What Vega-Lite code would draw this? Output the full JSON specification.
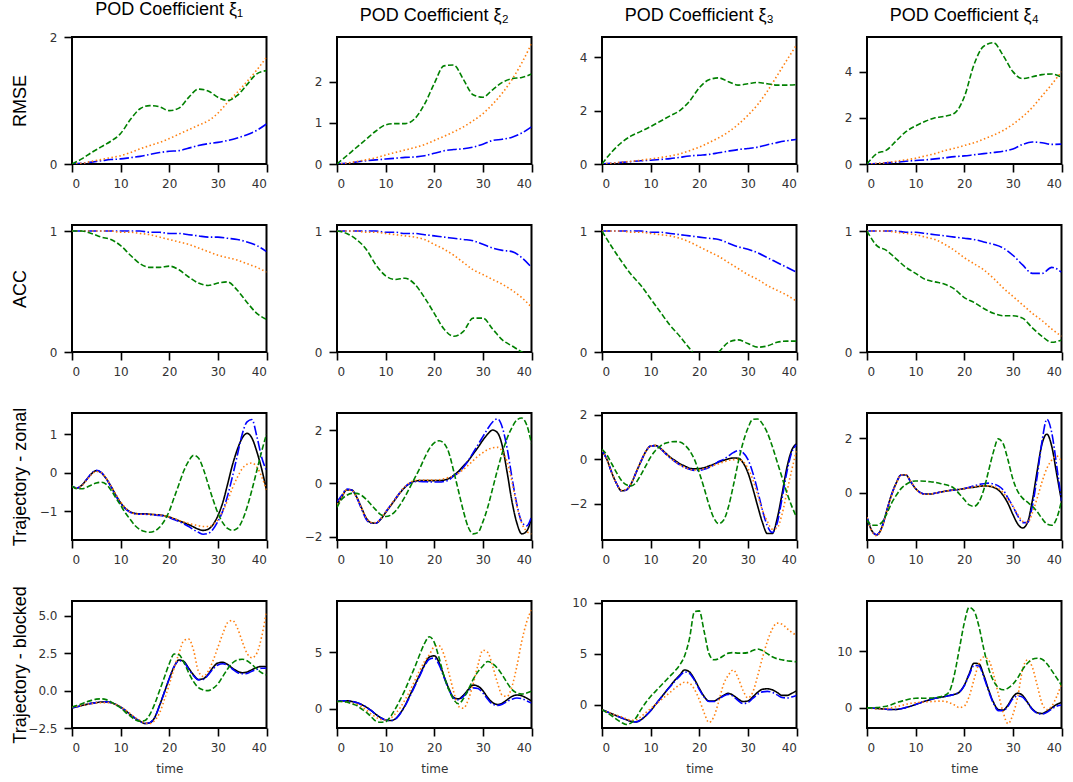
{
"$schema":"https://vega.github.io/schema/vega-lite/v6.json",
"background":"white",
"padding":{"left":9,"top":0,"right":5,"bottom":5},
"bounds":"flush",
"columns":4,
"spacing":{"row":61,"column":70},
"data":{"values":[
{"p":"11","t":0,"b":0,"o":0,"g":0},{"p":"11","t":2,"b":0.01,"o":0.01,"g":0.08},{"p":"11","t":4,"b":0.03,"o":0.04,"g":0.18},{"p":"11","t":6,"b":0.05,"o":0.07,"g":0.27},{"p":"11","t":8,"b":0.07,"o":0.1,"g":0.36},{"p":"11","t":10,"b":0.08,"o":0.13,"g":0.48},{"p":"11","t":12,"b":0.1,"o":0.18,"g":0.7},{"p":"11","t":14,"b":0.12,"o":0.24,"g":0.87},{"p":"11","t":16,"b":0.15,"o":0.29,"g":0.92},{"p":"11","t":18,"b":0.18,"o":0.34,"g":0.9},{"p":"11","t":20,"b":0.2,"o":0.4,"g":0.84},{"p":"11","t":22,"b":0.21,"o":0.47,"g":0.88},{"p":"11","t":24,"b":0.25,"o":0.54,"g":1.05},{"p":"11","t":26,"b":0.29,"o":0.61,"g":1.18},{"p":"11","t":28,"b":0.32,"o":0.68,"g":1.15},{"p":"11","t":30,"b":0.34,"o":0.8,"g":1.05},{"p":"11","t":32,"b":0.37,"o":0.97,"g":1.0},{"p":"11","t":34,"b":0.41,"o":1.13,"g":1.08},{"p":"11","t":36,"b":0.46,"o":1.3,"g":1.25},{"p":"11","t":38,"b":0.53,"o":1.48,"g":1.42},{"p":"11","t":40,"b":0.63,"o":1.68,"g":1.47},
{"p":"12","t":0,"b":0,"o":0,"g":0},{"p":"12","t":2,"b":0.02,"o":0.02,"g":0.2},{"p":"12","t":4,"b":0.05,"o":0.06,"g":0.4},{"p":"12","t":6,"b":0.08,"o":0.1,"g":0.6},{"p":"12","t":8,"b":0.1,"o":0.15,"g":0.8},{"p":"12","t":10,"b":0.12,"o":0.22,"g":0.95},{"p":"12","t":12,"b":0.14,"o":0.28,"g":0.98},{"p":"12","t":14,"b":0.16,"o":0.34,"g":0.98},{"p":"12","t":16,"b":0.17,"o":0.4,"g":1.1},{"p":"12","t":18,"b":0.2,"o":0.47,"g":1.45},{"p":"12","t":20,"b":0.26,"o":0.57,"g":1.95},{"p":"12","t":22,"b":0.32,"o":0.67,"g":2.38},{"p":"12","t":24,"b":0.35,"o":0.78,"g":2.4},{"p":"12","t":26,"b":0.37,"o":0.9,"g":2.05},{"p":"12","t":28,"b":0.41,"o":1.05,"g":1.68},{"p":"12","t":30,"b":0.48,"o":1.22,"g":1.62},{"p":"12","t":32,"b":0.57,"o":1.45,"g":1.8},{"p":"12","t":34,"b":0.6,"o":1.72,"g":1.98},{"p":"12","t":36,"b":0.65,"o":2.05,"g":2.07},{"p":"12","t":38,"b":0.75,"o":2.45,"g":2.1},{"p":"12","t":40,"b":0.9,"o":2.92,"g":2.18},
{"p":"13","t":0,"b":0,"o":0,"g":0},{"p":"13","t":2,"b":0.03,"o":0.03,"g":0.45},{"p":"13","t":4,"b":0.06,"o":0.07,"g":0.8},{"p":"13","t":6,"b":0.09,"o":0.1,"g":1.05},{"p":"13","t":8,"b":0.12,"o":0.14,"g":1.22},{"p":"13","t":10,"b":0.14,"o":0.19,"g":1.4},{"p":"13","t":12,"b":0.17,"o":0.24,"g":1.6},{"p":"13","t":14,"b":0.2,"o":0.3,"g":1.8},{"p":"13","t":16,"b":0.25,"o":0.38,"g":2.0},{"p":"13","t":18,"b":0.3,"o":0.5,"g":2.35},{"p":"13","t":20,"b":0.33,"o":0.63,"g":2.85},{"p":"13","t":22,"b":0.36,"o":0.8,"g":3.15},{"p":"13","t":24,"b":0.42,"o":0.98,"g":3.22},{"p":"13","t":26,"b":0.48,"o":1.2,"g":3.08},{"p":"13","t":28,"b":0.54,"o":1.48,"g":2.95},{"p":"13","t":30,"b":0.58,"o":1.82,"g":3.0},{"p":"13","t":32,"b":0.63,"o":2.22,"g":3.05},{"p":"13","t":34,"b":0.72,"o":2.72,"g":3.0},{"p":"13","t":36,"b":0.8,"o":3.3,"g":2.95},{"p":"13","t":38,"b":0.87,"o":3.88,"g":2.95},{"p":"13","t":40,"b":0.92,"o":4.45,"g":2.97},
{"p":"14","t":0,"b":0,"o":0,"g":0},{"p":"14","t":2,"b":0.02,"o":0.02,"g":0.45},{"p":"14","t":4,"b":0.05,"o":0.06,"g":0.6},{"p":"14","t":6,"b":0.08,"o":0.12,"g":1.0},{"p":"14","t":8,"b":0.12,"o":0.18,"g":1.4},{"p":"14","t":10,"b":0.15,"o":0.25,"g":1.65},{"p":"14","t":12,"b":0.18,"o":0.35,"g":1.85},{"p":"14","t":14,"b":0.22,"o":0.45,"g":2.0},{"p":"14","t":16,"b":0.27,"o":0.58,"g":2.07},{"p":"14","t":18,"b":0.32,"o":0.68,"g":2.2},{"p":"14","t":20,"b":0.35,"o":0.8,"g":2.9},{"p":"14","t":22,"b":0.4,"o":0.92,"g":4.3},{"p":"14","t":24,"b":0.45,"o":1.08,"g":5.1},{"p":"14","t":26,"b":0.5,"o":1.25,"g":5.25},{"p":"14","t":28,"b":0.55,"o":1.45,"g":4.7},{"p":"14","t":30,"b":0.65,"o":1.72,"g":4.0},{"p":"14","t":32,"b":0.85,"o":2.05,"g":3.7},{"p":"14","t":34,"b":0.95,"o":2.45,"g":3.78},{"p":"14","t":36,"b":0.92,"o":2.95,"g":3.87},{"p":"14","t":38,"b":0.85,"o":3.45,"g":3.9},{"p":"14","t":40,"b":0.86,"o":4.0,"g":3.75},
{"p":"21","t":0,"b":1,"o":1,"g":1},{"p":"21","t":2,"b":1,"o":1,"g":1},{"p":"21","t":4,"b":1,"o":1,"g":0.98},{"p":"21","t":6,"b":1,"o":1,"g":0.95},{"p":"21","t":8,"b":1,"o":1,"g":0.93},{"p":"21","t":10,"b":1,"o":0.99,"g":0.88},{"p":"21","t":12,"b":1,"o":0.99,"g":0.8},{"p":"21","t":14,"b":1,"o":0.98,"g":0.73},{"p":"21","t":16,"b":0.99,"o":0.97,"g":0.7},{"p":"21","t":18,"b":0.99,"o":0.95,"g":0.7},{"p":"21","t":20,"b":0.98,"o":0.93,"g":0.71},{"p":"21","t":22,"b":0.98,"o":0.91,"g":0.68},{"p":"21","t":24,"b":0.97,"o":0.89,"g":0.62},{"p":"21","t":26,"b":0.96,"o":0.86,"g":0.57},{"p":"21","t":28,"b":0.95,"o":0.83,"g":0.55},{"p":"21","t":30,"b":0.95,"o":0.8,"g":0.57},{"p":"21","t":32,"b":0.94,"o":0.78,"g":0.58},{"p":"21","t":34,"b":0.93,"o":0.76,"g":0.51},{"p":"21","t":36,"b":0.91,"o":0.73,"g":0.41},{"p":"21","t":38,"b":0.88,"o":0.7,"g":0.32},{"p":"21","t":40,"b":0.83,"o":0.66,"g":0.27},
{"p":"22","t":0,"b":1,"o":1,"g":1},{"p":"22","t":2,"b":1,"o":1,"g":0.98},{"p":"22","t":4,"b":1,"o":1,"g":0.93},{"p":"22","t":6,"b":1,"o":0.99,"g":0.85},{"p":"22","t":8,"b":1,"o":0.99,"g":0.72},{"p":"22","t":10,"b":0.99,"o":0.98,"g":0.63},{"p":"22","t":12,"b":0.99,"o":0.97,"g":0.6},{"p":"22","t":14,"b":0.98,"o":0.96,"g":0.61},{"p":"22","t":16,"b":0.98,"o":0.95,"g":0.56},{"p":"22","t":18,"b":0.97,"o":0.93,"g":0.45},{"p":"22","t":20,"b":0.96,"o":0.89,"g":0.32},{"p":"22","t":22,"b":0.95,"o":0.85,"g":0.19},{"p":"22","t":24,"b":0.94,"o":0.8,"g":0.13},{"p":"22","t":26,"b":0.93,"o":0.74,"g":0.17},{"p":"22","t":28,"b":0.92,"o":0.68,"g":0.28},{"p":"22","t":30,"b":0.89,"o":0.64,"g":0.28},{"p":"22","t":32,"b":0.86,"o":0.6,"g":0.19},{"p":"22","t":34,"b":0.84,"o":0.56,"g":0.1},{"p":"22","t":36,"b":0.83,"o":0.51,"g":0.05},{"p":"22","t":38,"b":0.78,"o":0.45,"g":0.0},{"p":"22","t":40,"b":0.7,"o":0.37,"g":-0.04},
{"p":"23","t":0,"b":1,"o":1,"g":1},{"p":"23","t":2,"b":1,"o":1,"g":0.87},{"p":"23","t":4,"b":1,"o":1,"g":0.75},{"p":"23","t":6,"b":1,"o":0.99,"g":0.64},{"p":"23","t":8,"b":1,"o":0.99,"g":0.55},{"p":"23","t":10,"b":0.99,"o":0.98,"g":0.44},{"p":"23","t":12,"b":0.99,"o":0.97,"g":0.33},{"p":"23","t":14,"b":0.98,"o":0.96,"g":0.22},{"p":"23","t":16,"b":0.97,"o":0.94,"g":0.13},{"p":"23","t":18,"b":0.96,"o":0.91,"g":0.03},{"p":"23","t":20,"b":0.95,"o":0.87,"g":-0.05},{"p":"23","t":22,"b":0.94,"o":0.83,"g":-0.05},{"p":"23","t":24,"b":0.93,"o":0.79,"g":0.0},{"p":"23","t":26,"b":0.9,"o":0.74,"g":0.08},{"p":"23","t":28,"b":0.87,"o":0.69,"g":0.1},{"p":"23","t":30,"b":0.85,"o":0.64,"g":0.07},{"p":"23","t":32,"b":0.82,"o":0.6,"g":0.04},{"p":"23","t":34,"b":0.78,"o":0.55,"g":0.05},{"p":"23","t":36,"b":0.74,"o":0.51,"g":0.08},{"p":"23","t":38,"b":0.7,"o":0.47,"g":0.09},{"p":"23","t":40,"b":0.66,"o":0.42,"g":0.09},
{"p":"24","t":0,"b":1,"o":1,"g":1},{"p":"24","t":2,"b":1,"o":1,"g":0.88},{"p":"24","t":4,"b":1,"o":1,"g":0.84},{"p":"24","t":6,"b":1,"o":0.99,"g":0.77},{"p":"24","t":8,"b":0.99,"o":0.98,"g":0.7},{"p":"24","t":10,"b":0.99,"o":0.97,"g":0.65},{"p":"24","t":12,"b":0.98,"o":0.95,"g":0.6},{"p":"24","t":14,"b":0.97,"o":0.93,"g":0.58},{"p":"24","t":16,"b":0.96,"o":0.89,"g":0.56},{"p":"24","t":18,"b":0.95,"o":0.84,"g":0.52},{"p":"24","t":20,"b":0.94,"o":0.78,"g":0.45},{"p":"24","t":22,"b":0.93,"o":0.73,"g":0.41},{"p":"24","t":24,"b":0.91,"o":0.68,"g":0.36},{"p":"24","t":26,"b":0.89,"o":0.61,"g":0.32},{"p":"24","t":28,"b":0.86,"o":0.53,"g":0.3},{"p":"24","t":30,"b":0.8,"o":0.46,"g":0.3},{"p":"24","t":32,"b":0.72,"o":0.39,"g":0.28},{"p":"24","t":34,"b":0.65,"o":0.32,"g":0.2},{"p":"24","t":36,"b":0.65,"o":0.26,"g":0.13},{"p":"24","t":38,"b":0.7,"o":0.19,"g":0.08},{"p":"24","t":40,"b":0.66,"o":0.13,"g":0.1},
{"p":"31","t":0,"k":-0.35,"b":-0.35,"o":-0.35,"g":-0.35},{"p":"31","t":1,"k":-0.4,"b":-0.4,"o":-0.4,"g":-0.42},{"p":"31","t":2,"k":-0.33,"b":-0.33,"o":-0.34,"g":-0.42},{"p":"31","t":3,"k":-0.18,"b":-0.18,"o":-0.2,"g":-0.38},{"p":"31","t":4,"k":-0.03,"b":-0.02,"o":-0.05,"g":-0.32},{"p":"31","t":5,"k":0.05,"b":0.06,"o":0.03,"g":-0.27},{"p":"31","t":6,"k":0.0,"b":0.01,"o":0.0,"g":-0.25},{"p":"31","t":7,"k":-0.15,"b":-0.15,"o":-0.14,"g":-0.3},{"p":"31","t":8,"k":-0.35,"b":-0.36,"o":-0.34,"g":-0.45},{"p":"31","t":9,"k":-0.58,"b":-0.6,"o":-0.56,"g":-0.65},{"p":"31","t":10,"k":-0.78,"b":-0.8,"o":-0.76,"g":-0.85},{"p":"31","t":11,"k":-0.93,"b":-0.94,"o":-0.92,"g":-1.05},{"p":"31","t":12,"k":-1.02,"b":-1.03,"o":-1.02,"g":-1.22},{"p":"31","t":13,"k":-1.06,"b":-1.07,"o":-1.07,"g":-1.38},{"p":"31","t":14,"k":-1.07,"b":-1.08,"o":-1.08,"g":-1.48},{"p":"31","t":15,"k":-1.07,"b":-1.08,"o":-1.08,"g":-1.53},{"p":"31","t":16,"k":-1.08,"b":-1.09,"o":-1.08,"g":-1.55},{"p":"31","t":17,"k":-1.09,"b":-1.1,"o":-1.09,"g":-1.52},{"p":"31","t":18,"k":-1.1,"b":-1.11,"o":-1.1,"g":-1.42},{"p":"31","t":19,"k":-1.12,"b":-1.13,"o":-1.12,"g":-1.25},{"p":"31","t":20,"k":-1.15,"b":-1.17,"o":-1.15,"g":-1.0},{"p":"31","t":21,"k":-1.2,"b":-1.22,"o":-1.19,"g":-0.65},{"p":"31","t":22,"k":-1.25,"b":-1.27,"o":-1.24,"g":-0.3},{"p":"31","t":23,"k":-1.3,"b":-1.33,"o":-1.28,"g":0.05},{"p":"31","t":24,"k":-1.35,"b":-1.4,"o":-1.32,"g":0.3},{"p":"31","t":25,"k":-1.41,"b":-1.48,"o":-1.35,"g":0.45},{"p":"31","t":26,"k":-1.47,"b":-1.55,"o":-1.38,"g":0.38},{"p":"31","t":27,"k":-1.5,"b":-1.6,"o":-1.4,"g":0.1},{"p":"31","t":28,"k":-1.47,"b":-1.58,"o":-1.4,"g":-0.3},{"p":"31","t":29,"k":-1.35,"b":-1.47,"o":-1.35,"g":-0.7},{"p":"31","t":30,"k":-1.12,"b":-1.27,"o":-1.22,"g":-1.05},{"p":"31","t":31,"k":-0.78,"b":-1.0,"o":-1.0,"g":-1.3},{"p":"31","t":32,"k":-0.3,"b":-0.6,"o":-0.72,"g":-1.45},{"p":"31","t":33,"k":0.2,"b":-0.1,"o":-0.4,"g":-1.5},{"p":"31","t":34,"k":0.6,"b":0.45,"o":-0.12,"g":-1.45},{"p":"31","t":35,"k":0.9,"b":1.0,"o":0.1,"g":-1.25},{"p":"31","t":36,"k":1.02,"b":1.32,"o":0.22,"g":-0.9},{"p":"31","t":37,"k":0.9,"b":1.38,"o":0.25,"g":-0.45},{"p":"31","t":38,"k":0.55,"b":0.95,"o":0.15,"g":0.05},{"p":"31","t":39,"k":0.1,"b":0.4,"o":-0.1,"g":0.55},{"p":"31","t":40,"k":-0.45,"b":0.05,"o":-0.45,"g":1.0},
{"p":"32","t":0,"k":-0.8,"b":-0.7,"o":-0.8,"g":-0.9},{"p":"32","t":1,"k":-0.5,"b":-0.45,"o":-0.5,"g":-0.6},{"p":"32","t":2,"k":-0.25,"b":-0.22,"o":-0.25,"g":-0.45},{"p":"32","t":3,"k":-0.25,"b":-0.25,"o":-0.27,"g":-0.38},{"p":"32","t":4,"k":-0.5,"b":-0.52,"o":-0.52,"g":-0.38},{"p":"32","t":5,"k":-0.9,"b":-0.95,"o":-0.92,"g":-0.45},{"p":"32","t":6,"k":-1.3,"b":-1.35,"o":-1.3,"g":-0.6},{"p":"32","t":7,"k":-1.48,"b":-1.5,"o":-1.47,"g":-0.8},{"p":"32","t":8,"k":-1.5,"b":-1.5,"o":-1.48,"g":-1.0},{"p":"32","t":9,"k":-1.35,"b":-1.33,"o":-1.33,"g":-1.18},{"p":"32","t":10,"k":-1.1,"b":-1.08,"o":-1.08,"g":-1.25},{"p":"32","t":11,"k":-0.85,"b":-0.83,"o":-0.83,"g":-1.2},{"p":"32","t":12,"k":-0.6,"b":-0.58,"o":-0.58,"g":-1.05},{"p":"32","t":13,"k":-0.35,"b":-0.33,"o":-0.33,"g":-0.8},{"p":"32","t":14,"k":-0.15,"b":-0.13,"o":-0.12,"g":-0.5},{"p":"32","t":15,"k":0.0,"b":0.0,"o":0.03,"g":-0.15},{"p":"32","t":16,"k":0.08,"b":0.06,"o":0.1,"g":0.2},{"p":"32","t":17,"k":0.1,"b":0.07,"o":0.12,"g":0.55},{"p":"32","t":18,"k":0.1,"b":0.06,"o":0.12,"g":0.95},{"p":"32","t":19,"k":0.1,"b":0.05,"o":0.12,"g":1.3},{"p":"32","t":20,"k":0.1,"b":0.05,"o":0.12,"g":1.52},{"p":"32","t":21,"k":0.1,"b":0.05,"o":0.13,"g":1.6},{"p":"32","t":22,"k":0.12,"b":0.07,"o":0.17,"g":1.5},{"p":"32","t":23,"k":0.18,"b":0.12,"o":0.22,"g":1.15},{"p":"32","t":24,"k":0.3,"b":0.28,"o":0.28,"g":0.45},{"p":"32","t":25,"k":0.45,"b":0.4,"o":0.38,"g":-0.3},{"p":"32","t":26,"k":0.65,"b":0.6,"o":0.52,"g":-1.05},{"p":"32","t":27,"k":0.85,"b":0.85,"o":0.68,"g":-1.65},{"p":"32","t":28,"k":1.1,"b":1.15,"o":0.85,"g":-1.9},{"p":"32","t":29,"k":1.35,"b":1.45,"o":1.02,"g":-1.85},{"p":"32","t":30,"k":1.62,"b":1.75,"o":1.15,"g":-1.45},{"p":"32","t":31,"k":1.85,"b":2.05,"o":1.27,"g":-0.9},{"p":"32","t":32,"k":2.0,"b":2.3,"o":1.33,"g":-0.2},{"p":"32","t":33,"k":1.9,"b":2.42,"o":1.35,"g":0.5},{"p":"32","t":34,"k":1.4,"b":2.1,"o":1.2,"g":1.15},{"p":"32","t":35,"k":0.4,"b":1.3,"o":0.8,"g":1.7},{"p":"32","t":36,"k":-0.7,"b":0.2,"o":0.05,"g":2.1},{"p":"32","t":37,"k":-1.5,"b":-0.8,"o":-0.85,"g":2.38},{"p":"32","t":38,"k":-1.9,"b":-1.45,"o":-1.5,"g":2.45},{"p":"32","t":39,"k":-1.8,"b":-1.6,"o":-1.8,"g":2.2},{"p":"32","t":40,"k":-1.3,"b":-1.25,"o":-1.9,"g":1.5},
{"p":"33","t":0,"k":0.4,"b":0.4,"o":0.4,"g":0.45},{"p":"33","t":1,"k":0.0,"b":0.0,"o":0.0,"g":0.2},{"p":"33","t":2,"k":-0.6,"b":-0.6,"o":-0.6,"g":-0.2},{"p":"33","t":3,"k":-1.1,"b":-1.1,"o":-1.1,"g":-0.6},{"p":"33","t":4,"k":-1.42,"b":-1.42,"o":-1.4,"g":-0.95},{"p":"33","t":5,"k":-1.38,"b":-1.38,"o":-1.36,"g":-1.15},{"p":"33","t":6,"k":-1.1,"b":-1.1,"o":-1.08,"g":-1.2},{"p":"33","t":7,"k":-0.6,"b":-0.6,"o":-0.58,"g":-1.05},{"p":"33","t":8,"k":-0.1,"b":-0.1,"o":-0.08,"g":-0.7},{"p":"33","t":9,"k":0.35,"b":0.35,"o":0.35,"g":-0.3},{"p":"33","t":10,"k":0.6,"b":0.6,"o":0.6,"g":0.1},{"p":"33","t":11,"k":0.62,"b":0.62,"o":0.63,"g":0.4},{"p":"33","t":12,"k":0.5,"b":0.48,"o":0.5,"g":0.6},{"p":"33","t":13,"k":0.3,"b":0.27,"o":0.28,"g":0.72},{"p":"33","t":14,"k":0.1,"b":0.06,"o":0.07,"g":0.78},{"p":"33","t":15,"k":-0.05,"b":-0.1,"o":-0.1,"g":0.8},{"p":"33","t":16,"k":-0.2,"b":-0.25,"o":-0.25,"g":0.78},{"p":"33","t":17,"k":-0.3,"b":-0.37,"o":-0.35,"g":0.65},{"p":"33","t":18,"k":-0.4,"b":-0.45,"o":-0.45,"g":0.4},{"p":"33","t":19,"k":-0.43,"b":-0.5,"o":-0.48,"g":0.0},{"p":"33","t":20,"k":-0.42,"b":-0.5,"o":-0.47,"g":-0.6},{"p":"33","t":21,"k":-0.38,"b":-0.45,"o":-0.42,"g":-1.3},{"p":"33","t":22,"k":-0.3,"b":-0.37,"o":-0.35,"g":-2.05},{"p":"33","t":23,"k":-0.22,"b":-0.25,"o":-0.27,"g":-2.65},{"p":"33","t":24,"k":-0.12,"b":-0.1,"o":-0.2,"g":-2.9},{"p":"33","t":25,"k":-0.05,"b":0.0,"o":-0.12,"g":-2.75},{"p":"33","t":26,"k":0.02,"b":0.15,"o":-0.05,"g":-2.15},{"p":"33","t":27,"k":0.06,"b":0.3,"o":-0.02,"g":-1.2},{"p":"33","t":28,"k":0.05,"b":0.4,"o":0.0,"g":-0.15},{"p":"33","t":29,"k":-0.15,"b":0.3,"o":-0.1,"g":0.75},{"p":"33","t":30,"k":-0.6,"b":0.0,"o":-0.4,"g":1.4},{"p":"33","t":31,"k":-1.3,"b":-0.6,"o":-0.9,"g":1.8},{"p":"33","t":32,"k":-2.1,"b":-1.4,"o":-1.6,"g":1.82},{"p":"33","t":33,"k":-2.85,"b":-2.3,"o":-2.3,"g":1.6},{"p":"33","t":34,"k":-3.35,"b":-3.0,"o":-2.8,"g":1.2},{"p":"33","t":35,"k":-3.35,"b":-3.3,"o":-3.15,"g":0.6},{"p":"33","t":36,"k":-2.7,"b":-2.9,"o":-3.1,"g":-0.1},{"p":"33","t":37,"k":-1.6,"b":-1.8,"o":-2.5,"g":-0.8},{"p":"33","t":38,"k":-0.4,"b":-0.6,"o":-1.5,"g":-1.5},{"p":"33","t":39,"k":0.4,"b":0.3,"o":-0.5,"g":-2.1},{"p":"33","t":40,"k":0.7,"b":0.65,"o":0.4,"g":-2.6},
{"p":"34","t":0,"k":-0.9,"b":-0.9,"o":-0.9,"g":-1.0},{"p":"34","t":1,"k":-1.4,"b":-1.4,"o":-1.42,"g":-1.2},{"p":"34","t":2,"k":-1.55,"b":-1.55,"o":-1.58,"g":-1.2},{"p":"34","t":3,"k":-1.3,"b":-1.3,"o":-1.33,"g":-1.1},{"p":"34","t":4,"k":-0.7,"b":-0.7,"o":-0.75,"g":-0.8},{"p":"34","t":5,"k":-0.1,"b":-0.1,"o":-0.13,"g":-0.4},{"p":"34","t":6,"k":0.35,"b":0.35,"o":0.33,"g":-0.1},{"p":"34","t":7,"k":0.65,"b":0.65,"o":0.65,"g":0.15},{"p":"34","t":8,"k":0.65,"b":0.65,"o":0.66,"g":0.3},{"p":"34","t":9,"k":0.4,"b":0.4,"o":0.42,"g":0.4},{"p":"34","t":10,"k":0.15,"b":0.15,"o":0.15,"g":0.43},{"p":"34","t":11,"k":0.0,"b":0.0,"o":-0.02,"g":0.43},{"p":"34","t":12,"k":-0.05,"b":-0.05,"o":-0.06,"g":0.42},{"p":"34","t":13,"k":-0.05,"b":-0.05,"o":-0.05,"g":0.4},{"p":"34","t":14,"k":-0.02,"b":-0.02,"o":-0.02,"g":0.38},{"p":"34","t":15,"k":0.02,"b":0.02,"o":0.02,"g":0.34},{"p":"34","t":16,"k":0.05,"b":0.05,"o":0.05,"g":0.3},{"p":"34","t":17,"k":0.08,"b":0.08,"o":0.08,"g":0.25},{"p":"34","t":18,"k":0.1,"b":0.1,"o":0.1,"g":0.15},{"p":"34","t":19,"k":0.12,"b":0.12,"o":0.12,"g":-0.05},{"p":"34","t":20,"k":0.15,"b":0.15,"o":0.15,"g":-0.25},{"p":"34","t":21,"k":0.18,"b":0.2,"o":0.18,"g":-0.45},{"p":"34","t":22,"k":0.2,"b":0.25,"o":0.22,"g":-0.5},{"p":"34","t":23,"k":0.23,"b":0.3,"o":0.24,"g":-0.35},{"p":"34","t":24,"k":0.25,"b":0.33,"o":0.25,"g":0.1},{"p":"34","t":25,"k":0.24,"b":0.35,"o":0.25,"g":0.8},{"p":"34","t":26,"k":0.2,"b":0.32,"o":0.22,"g":1.5},{"p":"34","t":27,"k":0.1,"b":0.25,"o":0.15,"g":1.98},{"p":"34","t":28,"k":-0.1,"b":0.1,"o":0.0,"g":1.8},{"p":"34","t":29,"k":-0.4,"b":-0.2,"o":-0.25,"g":1.2},{"p":"34","t":30,"k":-0.8,"b":-0.5,"o":-0.5,"g":0.5},{"p":"34","t":31,"k":-1.15,"b":-0.85,"o":-0.8,"g":0.05},{"p":"34","t":32,"k":-1.3,"b":-1.1,"o":-1.05,"g":-0.2},{"p":"34","t":33,"k":-1.1,"b":-1.1,"o":-1.1,"g":-0.35},{"p":"34","t":34,"k":-0.3,"b":-0.5,"o":-0.75,"g":-0.5},{"p":"34","t":35,"k":0.8,"b":0.6,"o":-0.2,"g":-0.7},{"p":"34","t":36,"k":1.8,"b":1.9,"o":0.4,"g":-0.95},{"p":"34","t":37,"k":2.15,"b":2.7,"o":0.9,"g":-1.15},{"p":"34","t":38,"k":1.7,"b":2.2,"o":1.2,"g":-1.2},{"p":"34","t":39,"k":0.7,"b":1.0,"o":1.35,"g":-0.95},{"p":"34","t":40,"k":-0.3,"b":-0.3,"o":1.15,"g":-0.3},
{"p":"41","t":0,"k":-1.15,"b":-1.15,"o":-1.1,"g":-1.1},{"p":"41","t":1,"k":-1.08,"b":-1.08,"o":-1.05,"g":-1.0},{"p":"41","t":2,"k":-1.0,"b":-1.0,"o":-1.0,"g":-0.88},{"p":"41","t":3,"k":-0.92,"b":-0.92,"o":-0.93,"g":-0.75},{"p":"41","t":4,"k":-0.85,"b":-0.85,"o":-0.87,"g":-0.65},{"p":"41","t":5,"k":-0.8,"b":-0.8,"o":-0.82,"g":-0.57},{"p":"41","t":6,"k":-0.76,"b":-0.76,"o":-0.8,"g":-0.55},{"p":"41","t":7,"k":-0.75,"b":-0.75,"o":-0.8,"g":-0.6},{"p":"41","t":8,"k":-0.8,"b":-0.8,"o":-0.82,"g":-0.75},{"p":"41","t":9,"k":-0.92,"b":-0.92,"o":-0.92,"g":-0.95},{"p":"41","t":10,"k":-1.1,"b":-1.1,"o":-1.08,"g":-1.15},{"p":"41","t":11,"k":-1.33,"b":-1.33,"o":-1.3,"g":-1.45},{"p":"41","t":12,"k":-1.6,"b":-1.6,"o":-1.55,"g":-1.7},{"p":"41","t":13,"k":-1.85,"b":-1.85,"o":-1.8,"g":-1.95},{"p":"41","t":14,"k":-2.05,"b":-2.05,"o":-2.0,"g":-2.05},{"p":"41","t":15,"k":-2.2,"b":-2.2,"o":-2.15,"g":-2.0},{"p":"41","t":16,"k":-2.15,"b":-2.15,"o":-2.2,"g":-1.6},{"p":"41","t":17,"k":-1.8,"b":-1.8,"o":-2.0,"g":-0.9},{"p":"41","t":18,"k":-1.0,"b":-1.0,"o":-1.5,"g":0.0},{"p":"41","t":19,"k":-0.1,"b":-0.1,"o":-0.6,"g":0.9},{"p":"41","t":20,"k":0.8,"b":0.8,"o":0.4,"g":1.8},{"p":"41","t":21,"k":1.6,"b":1.6,"o":1.5,"g":2.45},{"p":"41","t":22,"k":2.05,"b":2.0,"o":2.5,"g":2.4},{"p":"41","t":23,"k":1.95,"b":1.9,"o":3.35,"g":1.9},{"p":"41","t":24,"k":1.5,"b":1.45,"o":3.45,"g":1.2},{"p":"41","t":25,"k":1.05,"b":1.0,"o":2.7,"g":0.6},{"p":"41","t":26,"k":0.75,"b":0.72,"o":1.3,"g":0.2},{"p":"41","t":27,"k":0.8,"b":0.75,"o":0.95,"g":0.05},{"p":"41","t":28,"k":1.1,"b":1.05,"o":1.3,"g":0.0},{"p":"41","t":29,"k":1.55,"b":1.45,"o":2.0,"g":0.15},{"p":"41","t":30,"k":1.85,"b":1.72,"o":2.9,"g":0.45},{"p":"41","t":31,"k":1.9,"b":1.8,"o":3.8,"g":0.95},{"p":"41","t":32,"k":1.75,"b":1.7,"o":4.55,"g":1.45},{"p":"41","t":33,"k":1.5,"b":1.45,"o":4.7,"g":1.85},{"p":"41","t":34,"k":1.3,"b":1.22,"o":4.2,"g":2.05},{"p":"41","t":35,"k":1.2,"b":1.13,"o":3.3,"g":2.1},{"p":"41","t":36,"k":1.25,"b":1.15,"o":2.5,"g":2.0},{"p":"41","t":37,"k":1.4,"b":1.3,"o":2.2,"g":1.75},{"p":"41","t":38,"k":1.55,"b":1.42,"o":2.5,"g":1.45},{"p":"41","t":39,"k":1.62,"b":1.5,"o":3.6,"g":1.2},{"p":"41","t":40,"k":1.6,"b":1.5,"o":5.3,"g":1.05},
{"p":"42","t":0,"k":0.65,"b":0.65,"o":0.65,"g":0.65},{"p":"42","t":1,"k":0.7,"b":0.7,"o":0.65,"g":0.65},{"p":"42","t":2,"k":0.7,"b":0.7,"o":0.6,"g":0.6},{"p":"42","t":3,"k":0.65,"b":0.65,"o":0.5,"g":0.45},{"p":"42","t":4,"k":0.55,"b":0.55,"o":0.4,"g":0.3},{"p":"42","t":5,"k":0.38,"b":0.38,"o":0.2,"g":0.0},{"p":"42","t":6,"k":0.15,"b":0.15,"o":-0.1,"g":-0.3},{"p":"42","t":7,"k":-0.15,"b":-0.15,"o":-0.45,"g":-0.7},{"p":"42","t":8,"k":-0.5,"b":-0.5,"o":-0.75,"g":-1.1},{"p":"42","t":9,"k":-0.8,"b":-0.8,"o":-0.95,"g":-1.2},{"p":"42","t":10,"k":-1.0,"b":-1.0,"o":-1.0,"g":-1.15},{"p":"42","t":11,"k":-1.05,"b":-1.05,"o":-0.85,"g":-0.7},{"p":"42","t":12,"k":-0.9,"b":-0.92,"o":-0.45,"g":0.0},{"p":"42","t":13,"k":-0.4,"b":-0.45,"o":0.1,"g":0.8},{"p":"42","t":14,"k":0.3,"b":0.25,"o":0.8,"g":1.7},{"p":"42","t":15,"k":1.2,"b":1.1,"o":1.6,"g":2.7},{"p":"42","t":16,"k":2.1,"b":2.0,"o":2.5,"g":3.7},{"p":"42","t":17,"k":3.0,"b":2.9,"o":3.4,"g":4.8},{"p":"42","t":18,"k":3.9,"b":3.8,"o":4.2,"g":5.8},{"p":"42","t":19,"k":4.6,"b":4.4,"o":4.8,"g":6.4},{"p":"42","t":20,"k":4.7,"b":4.5,"o":5.5,"g":5.9},{"p":"42","t":21,"k":4.1,"b":3.9,"o":5.6,"g":4.5},{"p":"42","t":22,"k":2.9,"b":2.8,"o":4.8,"g":2.9},{"p":"42","t":23,"k":1.8,"b":1.7,"o":3.2,"g":1.7},{"p":"42","t":24,"k":1.0,"b":0.95,"o":1.5,"g":0.8},{"p":"42","t":25,"k":0.88,"b":0.8,"o":0.2,"g":0.45},{"p":"42","t":26,"k":1.2,"b":1.1,"o":0.05,"g":0.9},{"p":"42","t":27,"k":1.7,"b":1.55,"o":0.8,"g":1.7},{"p":"42","t":28,"k":2.1,"b":1.85,"o":2.2,"g":2.6},{"p":"42","t":29,"k":2.0,"b":1.8,"o":3.9,"g":3.3},{"p":"42","t":30,"k":1.6,"b":1.4,"o":5.2,"g":3.8},{"p":"42","t":31,"k":1.0,"b":0.85,"o":5.0,"g":4.2},{"p":"42","t":32,"k":0.55,"b":0.4,"o":3.8,"g":4.0},{"p":"42","t":33,"k":0.38,"b":0.3,"o":2.3,"g":3.6},{"p":"42","t":34,"k":0.5,"b":0.4,"o":1.2,"g":3.0},{"p":"42","t":35,"k":0.8,"b":0.65,"o":1.1,"g":2.3},{"p":"42","t":36,"k":1.1,"b":0.85,"o":2.0,"g":1.7},{"p":"42","t":37,"k":1.22,"b":0.95,"o":3.8,"g":1.4},{"p":"42","t":38,"k":1.15,"b":0.9,"o":6.0,"g":1.3},{"p":"42","t":39,"k":0.95,"b":0.7,"o":7.7,"g":1.4},{"p":"42","t":40,"k":0.68,"b":0.5,"o":8.8,"g":1.55},
{"p":"43","t":0,"k":-0.5,"b":-0.5,"o":-0.5,"g":-0.5},{"p":"43","t":1,"k":-0.7,"b":-0.7,"o":-0.7,"g":-0.8},{"p":"43","t":2,"k":-0.9,"b":-0.9,"o":-0.9,"g":-1.1},{"p":"43","t":3,"k":-1.1,"b":-1.1,"o":-1.05,"g":-1.45},{"p":"43","t":4,"k":-1.3,"b":-1.3,"o":-1.2,"g":-1.75},{"p":"43","t":5,"k":-1.48,"b":-1.48,"o":-1.4,"g":-1.95},{"p":"43","t":6,"k":-1.65,"b":-1.65,"o":-1.55,"g":-1.8},{"p":"43","t":7,"k":-1.7,"b":-1.7,"o":-1.5,"g":-1.3},{"p":"43","t":8,"k":-1.5,"b":-1.5,"o":-1.2,"g":-0.5},{"p":"43","t":9,"k":-1.1,"b":-1.1,"o":-0.8,"g":0.2},{"p":"43","t":10,"k":-0.6,"b":-0.6,"o":-0.4,"g":0.8},{"p":"43","t":11,"k":0.0,"b":0.0,"o":0.0,"g":1.3},{"p":"43","t":12,"k":0.6,"b":0.6,"o":0.4,"g":1.8},{"p":"43","t":13,"k":1.2,"b":1.2,"o":0.8,"g":2.3},{"p":"43","t":14,"k":1.8,"b":1.75,"o":1.2,"g":2.8},{"p":"43","t":15,"k":2.4,"b":2.3,"o":1.6,"g":3.3},{"p":"43","t":16,"k":2.9,"b":2.8,"o":1.95,"g":3.9},{"p":"43","t":17,"k":3.4,"b":3.2,"o":2.2,"g":4.8},{"p":"43","t":18,"k":3.2,"b":3.05,"o":2.1,"g":6.5},{"p":"43","t":19,"k":2.5,"b":2.4,"o":1.5,"g":9.1},{"p":"43","t":20,"k":1.6,"b":1.5,"o":0.5,"g":9.2},{"p":"43","t":21,"k":0.8,"b":0.75,"o":-0.8,"g":7.2},{"p":"43","t":22,"k":0.35,"b":0.3,"o":-1.75,"g":5.0},{"p":"43","t":23,"k":0.35,"b":0.3,"o":-1.2,"g":4.4},{"p":"43","t":24,"k":0.6,"b":0.55,"o":0.3,"g":4.5},{"p":"43","t":25,"k":0.9,"b":0.85,"o":2.0,"g":4.8},{"p":"43","t":26,"k":1.1,"b":1.0,"o":2.9,"g":5.05},{"p":"43","t":27,"k":0.9,"b":0.8,"o":3.4,"g":5.1},{"p":"43","t":28,"k":0.55,"b":0.4,"o":2.6,"g":5.05},{"p":"43","t":29,"k":0.3,"b":0.1,"o":1.4,"g":5.05},{"p":"43","t":30,"k":0.35,"b":0.2,"o":0.65,"g":5.1},{"p":"43","t":31,"k":0.75,"b":0.6,"o":1.2,"g":5.3},{"p":"43","t":32,"k":1.2,"b":1.0,"o":2.8,"g":5.45},{"p":"43","t":33,"k":1.5,"b":1.25,"o":4.6,"g":5.3},{"p":"43","t":34,"k":1.55,"b":1.3,"o":6.2,"g":5.0},{"p":"43","t":35,"k":1.45,"b":1.2,"o":7.4,"g":4.7},{"p":"43","t":36,"k":1.2,"b":0.95,"o":8.0,"g":4.5},{"p":"43","t":37,"k":0.9,"b":0.7,"o":7.9,"g":4.4},{"p":"43","t":38,"k":0.9,"b":0.65,"o":7.5,"g":4.3},{"p":"43","t":39,"k":1.1,"b":0.75,"o":7.1,"g":4.25},{"p":"43","t":40,"k":1.35,"b":0.9,"o":6.8,"g":4.2},
{"p":"44","t":0,"k":0.0,"b":0.0,"o":0.0,"g":0.0},{"p":"44","t":1,"k":-0.05,"b":-0.05,"o":-0.1,"g":0.0},{"p":"44","t":2,"k":-0.1,"b":-0.1,"o":-0.2,"g":0.05},{"p":"44","t":3,"k":-0.18,"b":-0.18,"o":-0.2,"g":0.15},{"p":"44","t":4,"k":-0.25,"b":-0.25,"o":-0.15,"g":0.3},{"p":"44","t":5,"k":-0.3,"b":-0.3,"o":0.0,"g":0.55},{"p":"44","t":6,"k":-0.28,"b":-0.28,"o":0.2,"g":0.9},{"p":"44","t":7,"k":-0.15,"b":-0.15,"o":0.4,"g":1.15},{"p":"44","t":8,"k":0.05,"b":0.05,"o":0.6,"g":1.4},{"p":"44","t":9,"k":0.3,"b":0.3,"o":0.8,"g":1.6},{"p":"44","t":10,"k":0.6,"b":0.6,"o":0.9,"g":1.7},{"p":"44","t":11,"k":0.9,"b":0.9,"o":1.0,"g":1.72},{"p":"44","t":12,"k":1.2,"b":1.2,"o":1.05,"g":1.7},{"p":"44","t":13,"k":1.45,"b":1.45,"o":1.1,"g":1.72},{"p":"44","t":14,"k":1.7,"b":1.7,"o":1.15,"g":1.8},{"p":"44","t":15,"k":1.85,"b":1.85,"o":1.2,"g":1.95},{"p":"44","t":16,"k":2.0,"b":2.0,"o":1.15,"g":2.2},{"p":"44","t":17,"k":2.2,"b":2.2,"o":0.9,"g":3.0},{"p":"44","t":18,"k":2.4,"b":2.4,"o":0.5,"g":6.0},{"p":"44","t":19,"k":2.8,"b":2.8,"o":0.05,"g":10.5},{"p":"44","t":20,"k":4.0,"b":3.9,"o":0.3,"g":15.0},{"p":"44","t":21,"k":6.0,"b":5.8,"o":2.0,"g":17.8},{"p":"44","t":22,"k":7.9,"b":7.5,"o":5.0,"g":17.2},{"p":"44","t":23,"k":7.8,"b":7.4,"o":7.8,"g":14.5},{"p":"44","t":24,"k":5.8,"b":5.5,"o":9.0,"g":10.5},{"p":"44","t":25,"k":3.2,"b":3.0,"o":8.5,"g":7.0},{"p":"44","t":26,"k":1.0,"b":0.8,"o":6.0,"g":4.8},{"p":"44","t":27,"k":-0.3,"b":-0.5,"o":2.5,"g":3.6},{"p":"44","t":28,"k":-0.4,"b":-0.5,"o":-0.8,"g":3.2},{"p":"44","t":29,"k":0.5,"b":0.3,"o":-2.8,"g":3.5},{"p":"44","t":30,"k":1.9,"b":1.6,"o":-1.2,"g":4.2},{"p":"44","t":31,"k":2.6,"b":2.1,"o":2.0,"g":5.3},{"p":"44","t":32,"k":2.2,"b":1.9,"o":6.8,"g":6.8},{"p":"44","t":33,"k":1.0,"b":0.9,"o":8.5,"g":7.9},{"p":"44","t":34,"k":-0.2,"b":-0.3,"o":7.2,"g":8.6},{"p":"44","t":35,"k":-0.85,"b":-0.95,"o":4.0,"g":8.8},{"p":"44","t":36,"k":-1.0,"b":-1.1,"o":0.8,"g":8.6},{"p":"44","t":37,"k":-0.6,"b":-0.8,"o":-0.3,"g":7.8},{"p":"44","t":38,"k":0.0,"b":-0.2,"o":0.3,"g":6.6},{"p":"44","t":39,"k":0.6,"b":0.3,"o":2.0,"g":5.3},{"p":"44","t":40,"k":0.95,"b":0.5,"o":4.2,"g":4.0}
]},
"transform":[{"fold":["k","b","o","g"],"as":["s","v"]},{"filter":"isValid(datum.v)"}],
"concat":[
{"width":194.5,"height":127,"title":"POD Coefficient ξ₁","transform":[{"filter":"datum.p=='11'"}],"mark":{"type":"line","clip":true,"interpolate":"monotone","strokeWidth":1.6},"encoding":{"x":{"field":"t","type":"quantitative","scale":{"domain":[0,40],"nice":false},"axis":{"values":[0,10,20,30,40],"title":null}},"y":{"field":"v","type":"quantitative","scale":{"domain":[0,2],"nice":false,"zero":false},"axis":{"values":[0,1,2],"format":"d","title":"RMSE"}},"color":{"field":"s","type":"nominal","scale":{"domain":["k","b","o","g"],"range":["#000000","#0000ff","#ff7f0e","#008000"]},"legend":null},"strokeDash":{"field":"s","type":"nominal","scale":{"domain":["k","b","o","g"],"range":[[1,0],[9.6,2.4,1.5,2.4],[1.5,2.5],[5.5,2.4]]},"legend":null}}},
{"width":194.5,"height":127,"title":"POD Coefficient ξ₂","transform":[{"filter":"datum.p=='12'"}],"mark":{"type":"line","clip":true,"interpolate":"monotone","strokeWidth":1.6},"encoding":{"x":{"field":"t","type":"quantitative","scale":{"domain":[0,40],"nice":false},"axis":{"values":[0,10,20,30,40],"title":null}},"y":{"field":"v","type":"quantitative","scale":{"domain":[0,3.08],"nice":false,"zero":false},"axis":{"values":[0,1,2],"format":"d","title":null}},"color":{"field":"s","type":"nominal","scale":{"domain":["k","b","o","g"],"range":["#000000","#0000ff","#ff7f0e","#008000"]},"legend":null},"strokeDash":{"field":"s","type":"nominal","scale":{"domain":["k","b","o","g"],"range":[[1,0],[9.6,2.4,1.5,2.4],[1.5,2.5],[5.5,2.4]]},"legend":null}}},
{"width":194.5,"height":127,"title":"POD Coefficient ξ₃","transform":[{"filter":"datum.p=='13'"}],"mark":{"type":"line","clip":true,"interpolate":"monotone","strokeWidth":1.6},"encoding":{"x":{"field":"t","type":"quantitative","scale":{"domain":[0,40],"nice":false},"axis":{"values":[0,10,20,30,40],"title":null}},"y":{"field":"v","type":"quantitative","scale":{"domain":[0,4.75],"nice":false,"zero":false},"axis":{"values":[0,2,4],"format":"d","title":null}},"color":{"field":"s","type":"nominal","scale":{"domain":["k","b","o","g"],"range":["#000000","#0000ff","#ff7f0e","#008000"]},"legend":null},"strokeDash":{"field":"s","type":"nominal","scale":{"domain":["k","b","o","g"],"range":[[1,0],[9.6,2.4,1.5,2.4],[1.5,2.5],[5.5,2.4]]},"legend":null}}},
{"width":194.5,"height":127,"title":"POD Coefficient ξ₄","transform":[{"filter":"datum.p=='14'"}],"mark":{"type":"line","clip":true,"interpolate":"monotone","strokeWidth":1.6},"encoding":{"x":{"field":"t","type":"quantitative","scale":{"domain":[0,40],"nice":false},"axis":{"values":[0,10,20,30,40],"title":null}},"y":{"field":"v","type":"quantitative","scale":{"domain":[0,5.5],"nice":false,"zero":false},"axis":{"values":[0,2,4],"format":"d","title":null}},"color":{"field":"s","type":"nominal","scale":{"domain":["k","b","o","g"],"range":["#000000","#0000ff","#ff7f0e","#008000"]},"legend":null},"strokeDash":{"field":"s","type":"nominal","scale":{"domain":["k","b","o","g"],"range":[[1,0],[9.6,2.4,1.5,2.4],[1.5,2.5],[5.5,2.4]]},"legend":null}}},
{"width":194.5,"height":127,"transform":[{"filter":"datum.p=='21'"}],"mark":{"type":"line","clip":true,"interpolate":"monotone","strokeWidth":1.6},"encoding":{"x":{"field":"t","type":"quantitative","scale":{"domain":[0,40],"nice":false},"axis":{"values":[0,10,20,30,40],"title":null}},"y":{"field":"v","type":"quantitative","scale":{"domain":[0,1.05],"nice":false,"zero":false},"axis":{"values":[0,1],"format":"d","title":"ACC"}},"color":{"field":"s","type":"nominal","scale":{"domain":["k","b","o","g"],"range":["#000000","#0000ff","#ff7f0e","#008000"]},"legend":null},"strokeDash":{"field":"s","type":"nominal","scale":{"domain":["k","b","o","g"],"range":[[1,0],[9.6,2.4,1.5,2.4],[1.5,2.5],[5.5,2.4]]},"legend":null}}},
{"width":194.5,"height":127,"transform":[{"filter":"datum.p=='22'"}],"mark":{"type":"line","clip":true,"interpolate":"monotone","strokeWidth":1.6},"encoding":{"x":{"field":"t","type":"quantitative","scale":{"domain":[0,40],"nice":false},"axis":{"values":[0,10,20,30,40],"title":null}},"y":{"field":"v","type":"quantitative","scale":{"domain":[0,1.05],"nice":false,"zero":false},"axis":{"values":[0,1],"format":"d","title":null}},"color":{"field":"s","type":"nominal","scale":{"domain":["k","b","o","g"],"range":["#000000","#0000ff","#ff7f0e","#008000"]},"legend":null},"strokeDash":{"field":"s","type":"nominal","scale":{"domain":["k","b","o","g"],"range":[[1,0],[9.6,2.4,1.5,2.4],[1.5,2.5],[5.5,2.4]]},"legend":null}}},
{"width":194.5,"height":127,"transform":[{"filter":"datum.p=='23'"}],"mark":{"type":"line","clip":true,"interpolate":"monotone","strokeWidth":1.6},"encoding":{"x":{"field":"t","type":"quantitative","scale":{"domain":[0,40],"nice":false},"axis":{"values":[0,10,20,30,40],"title":null}},"y":{"field":"v","type":"quantitative","scale":{"domain":[0,1.05],"nice":false,"zero":false},"axis":{"values":[0,1],"format":"d","title":null}},"color":{"field":"s","type":"nominal","scale":{"domain":["k","b","o","g"],"range":["#000000","#0000ff","#ff7f0e","#008000"]},"legend":null},"strokeDash":{"field":"s","type":"nominal","scale":{"domain":["k","b","o","g"],"range":[[1,0],[9.6,2.4,1.5,2.4],[1.5,2.5],[5.5,2.4]]},"legend":null}}},
{"width":194.5,"height":127,"transform":[{"filter":"datum.p=='24'"}],"mark":{"type":"line","clip":true,"interpolate":"monotone","strokeWidth":1.6},"encoding":{"x":{"field":"t","type":"quantitative","scale":{"domain":[0,40],"nice":false},"axis":{"values":[0,10,20,30,40],"title":null}},"y":{"field":"v","type":"quantitative","scale":{"domain":[0,1.05],"nice":false,"zero":false},"axis":{"values":[0,1],"format":"d","title":null}},"color":{"field":"s","type":"nominal","scale":{"domain":["k","b","o","g"],"range":["#000000","#0000ff","#ff7f0e","#008000"]},"legend":null},"strokeDash":{"field":"s","type":"nominal","scale":{"domain":["k","b","o","g"],"range":[[1,0],[9.6,2.4,1.5,2.4],[1.5,2.5],[5.5,2.4]]},"legend":null}}},
{"width":194.5,"height":127,"transform":[{"filter":"datum.p=='31'"}],"mark":{"type":"line","clip":true,"interpolate":"monotone","strokeWidth":1.6},"encoding":{"x":{"field":"t","type":"quantitative","scale":{"domain":[0,40],"nice":false},"axis":{"values":[0,10,20,30,40],"title":null}},"y":{"field":"v","type":"quantitative","scale":{"domain":[-1.75,1.55],"nice":false,"zero":false},"axis":{"values":[-1,0,1],"format":"d","title":"Trajectory - zonal"}},"color":{"field":"s","type":"nominal","scale":{"domain":["k","b","o","g"],"range":["#000000","#0000ff","#ff7f0e","#008000"]},"legend":null},"strokeDash":{"field":"s","type":"nominal","scale":{"domain":["k","b","o","g"],"range":[[1,0],[9.6,2.4,1.5,2.4],[1.5,2.5],[5.5,2.4]]},"legend":null}}},
{"width":194.5,"height":127,"transform":[{"filter":"datum.p=='32'"}],"mark":{"type":"line","clip":true,"interpolate":"monotone","strokeWidth":1.6},"encoding":{"x":{"field":"t","type":"quantitative","scale":{"domain":[0,40],"nice":false},"axis":{"values":[0,10,20,30,40],"title":null}},"y":{"field":"v","type":"quantitative","scale":{"domain":[-2.13,2.64],"nice":false,"zero":false},"axis":{"values":[-2,0,2],"format":"d","title":null}},"color":{"field":"s","type":"nominal","scale":{"domain":["k","b","o","g"],"range":["#000000","#0000ff","#ff7f0e","#008000"]},"legend":null},"strokeDash":{"field":"s","type":"nominal","scale":{"domain":["k","b","o","g"],"range":[[1,0],[9.6,2.4,1.5,2.4],[1.5,2.5],[5.5,2.4]]},"legend":null}}},
{"width":194.5,"height":127,"transform":[{"filter":"datum.p=='33'"}],"mark":{"type":"line","clip":true,"interpolate":"monotone","strokeWidth":1.6},"encoding":{"x":{"field":"t","type":"quantitative","scale":{"domain":[0,40],"nice":false},"axis":{"values":[0,10,20,30,40],"title":null}},"y":{"field":"v","type":"quantitative","scale":{"domain":[-3.64,2.09],"nice":false,"zero":false},"axis":{"values":[-2,0,2],"format":"d","title":null}},"color":{"field":"s","type":"nominal","scale":{"domain":["k","b","o","g"],"range":["#000000","#0000ff","#ff7f0e","#008000"]},"legend":null},"strokeDash":{"field":"s","type":"nominal","scale":{"domain":["k","b","o","g"],"range":[[1,0],[9.6,2.4,1.5,2.4],[1.5,2.5],[5.5,2.4]]},"legend":null}}},
{"width":194.5,"height":127,"transform":[{"filter":"datum.p=='34'"}],"mark":{"type":"line","clip":true,"interpolate":"monotone","strokeWidth":1.6},"encoding":{"x":{"field":"t","type":"quantitative","scale":{"domain":[0,40],"nice":false},"axis":{"values":[0,10,20,30,40],"title":null}},"y":{"field":"v","type":"quantitative","scale":{"domain":[-1.74,2.93],"nice":false,"zero":false},"axis":{"values":[0,2],"format":"d","title":null}},"color":{"field":"s","type":"nominal","scale":{"domain":["k","b","o","g"],"range":["#000000","#0000ff","#ff7f0e","#008000"]},"legend":null},"strokeDash":{"field":"s","type":"nominal","scale":{"domain":["k","b","o","g"],"range":[[1,0],[9.6,2.4,1.5,2.4],[1.5,2.5],[5.5,2.4]]},"legend":null}}},
{"width":194.5,"height":127,"transform":[{"filter":"datum.p=='41'"}],"mark":{"type":"line","clip":true,"interpolate":"monotone","strokeWidth":1.6},"encoding":{"x":{"field":"t","type":"quantitative","scale":{"domain":[0,40],"nice":false},"axis":{"values":[0,10,20,30,40],"title":"time"}},"y":{"field":"v","type":"quantitative","scale":{"domain":[-2.5,6.0],"nice":false,"zero":false},"axis":{"values":[-2.5,0,2.5,5],"format":".1f","title":"Trajectory - blocked"}},"color":{"field":"s","type":"nominal","scale":{"domain":["k","b","o","g"],"range":["#000000","#0000ff","#ff7f0e","#008000"]},"legend":null},"strokeDash":{"field":"s","type":"nominal","scale":{"domain":["k","b","o","g"],"range":[[1,0],[9.6,2.4,1.5,2.4],[1.5,2.5],[5.5,2.4]]},"legend":null}}},
{"width":194.5,"height":127,"transform":[{"filter":"datum.p=='42'"}],"mark":{"type":"line","clip":true,"interpolate":"monotone","strokeWidth":1.6},"encoding":{"x":{"field":"t","type":"quantitative","scale":{"domain":[0,40],"nice":false},"axis":{"values":[0,10,20,30,40],"title":"time"}},"y":{"field":"v","type":"quantitative","scale":{"domain":[-1.71,9.57],"nice":false,"zero":false},"axis":{"values":[0,5],"format":"d","title":null}},"color":{"field":"s","type":"nominal","scale":{"domain":["k","b","o","g"],"range":["#000000","#0000ff","#ff7f0e","#008000"]},"legend":null},"strokeDash":{"field":"s","type":"nominal","scale":{"domain":["k","b","o","g"],"range":[[1,0],[9.6,2.4,1.5,2.4],[1.5,2.5],[5.5,2.4]]},"legend":null}}},
{"width":194.5,"height":127,"transform":[{"filter":"datum.p=='43'"}],"mark":{"type":"line","clip":true,"interpolate":"monotone","strokeWidth":1.6},"encoding":{"x":{"field":"t","type":"quantitative","scale":{"domain":[0,40],"nice":false},"axis":{"values":[0,10,20,30,40],"title":"time"}},"y":{"field":"v","type":"quantitative","scale":{"domain":[-2.3,10.17],"nice":false,"zero":false},"axis":{"values":[0,5,10],"format":"d","title":null}},"color":{"field":"s","type":"nominal","scale":{"domain":["k","b","o","g"],"range":["#000000","#0000ff","#ff7f0e","#008000"]},"legend":null},"strokeDash":{"field":"s","type":"nominal","scale":{"domain":["k","b","o","g"],"range":[[1,0],[9.6,2.4,1.5,2.4],[1.5,2.5],[5.5,2.4]]},"legend":null}}},
{"width":194.5,"height":127,"transform":[{"filter":"datum.p=='44'"}],"mark":{"type":"line","clip":true,"interpolate":"monotone","strokeWidth":1.6},"encoding":{"x":{"field":"t","type":"quantitative","scale":{"domain":[0,40],"nice":false},"axis":{"values":[0,10,20,30,40],"title":"time"}},"y":{"field":"v","type":"quantitative","scale":{"domain":[-3.57,18.93],"nice":false,"zero":false},"axis":{"values":[0,10],"format":"d","title":null}},"color":{"field":"s","type":"nominal","scale":{"domain":["k","b","o","g"],"range":["#000000","#0000ff","#ff7f0e","#008000"]},"legend":null},"strokeDash":{"field":"s","type":"nominal","scale":{"domain":["k","b","o","g"],"range":[[1,0],[9.6,2.4,1.5,2.4],[1.5,2.5],[5.5,2.4]]},"legend":null}}}
],
"config":{
"view":{"stroke":"#000000","strokeWidth":2},
"axis":{"grid":false,"domain":false,"ticks":true,"tickColor":"#000000","tickWidth":1.6,"tickSize":8,"labelFont":"DejaVu Sans","labelFontSize":12,"labelColor":"#333333"},
"axisX":{"labelPadding":6,"titleFont":"DejaVu Sans","titleFontSize":12,"titleFontWeight":"normal","titleColor":"#333333","titlePadding":10},
"axisY":{"labelPadding":7,"titleFont":"Liberation Sans","titleFontSize":18,"titleFontWeight":"normal","titleColor":"#000000","titleX":-47,"titleBaseline":"alphabetic"},
"title":{"font":"Liberation Sans","fontSize":18,"fontWeight":"normal","color":"#000000","offset":12}
}
}
